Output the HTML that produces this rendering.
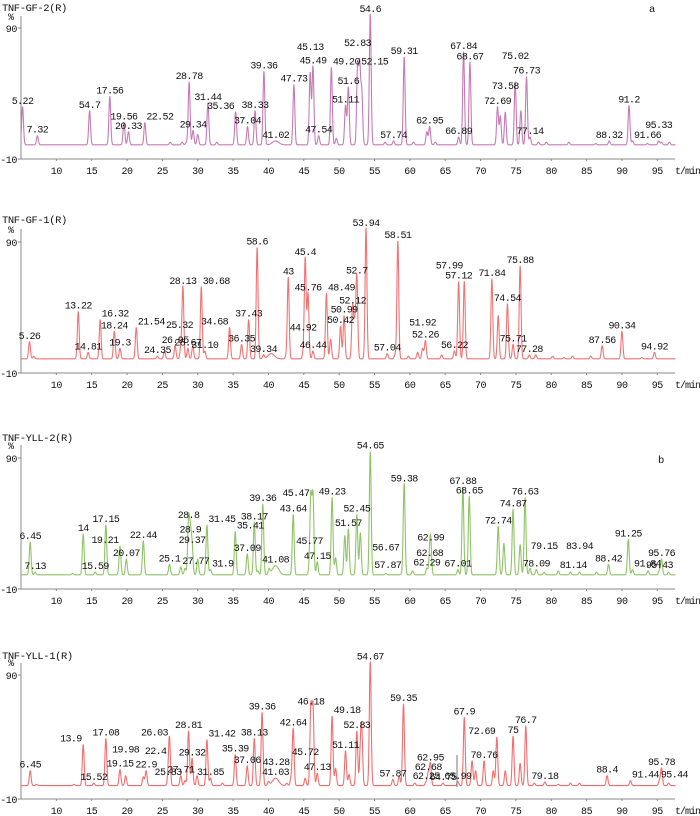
<!DOCTYPE html>
<html><head><meta charset="utf-8"><style>
html,body{margin:0;padding:0;background:#fff;}
svg{display:block;font-family:"Liberation Mono","Liberation Sans",monospace;}
.lbl{font-size:10px;fill:#111;letter-spacing:-0.6px;}
.tick{font-size:10px;fill:#111;letter-spacing:-0.4px;}
.ttl{font-size:10.5px;fill:#111;letter-spacing:-0.4px;}
</style></head><body>
<svg id="chart" width="700" height="816" viewBox="0 0 700 816" xmlns="http://www.w3.org/2000/svg"></svg>
<script>
// ---- data (retention time in min, relative abundance %, peak label) ----
const p1Times=[5.22,7.32,14.7,17.56,19.56,20.2,22.52,26.1,27.8,28.4,28.78,29.34,30.0,31.44,32.7,35.36,37.04,38.1,39.36,41.02,43.6,45.9,46.3,47.1,48.9,49.6,50.9,51.3,52.6,52.9,53.2,54.4,56.5,57.7,59.2,60.5,62.4,62.8,63.6,66.9,67.6,68.5,72.4,72.8,73.5,74.9,75.7,76.5,77.0,78.2,79.3,82.5,86.3,88.2,91.0,91.5,93.6,95.2,95.6,96.7];
const p1Heights=[29,7,26,37,17,10,17,2,2,2,48,11,8,32,2,25,14,26,56,3,46,55,60,7,59,5,30,44,58,59,40,100,2,3,67,2,10,14,2,6,71,63,29,22,25,48,26,52,6,2,2,2,1,3,30,3,1,3,2,2];
const p1Labels=["5.22","7.32","54.7","17.56","19.56","20.33","22.52","","","","28.78","29.34","","31.44","","35.36","37.04","38.33","39.36","41.02","47.73","45.13","45.49","47.54","49.20","","51.11","51.6","52.83","52.15","","54.6","","57.74","59.31","","","62.95","","66.89","67.84","68.67","72.69","","73.58","75.02","","76.73","77.14","","","","","88.32","91.2","91.66","","95.33","",""];
const p1Broad=[41.02];

const p2Times=[6.2,6.8,13.1,14.5,16.2,18.2,19.0,21.3,24.3,25.3,26.8,27.6,27.9,28.6,29.3,30.5,31.0,34.5,36.2,37.2,38.4,39.3,40.4,42.5,42.8,44.9,45.2,45.6,46.3,48.2,48.8,50.2,50.7,51.9,52.2,52.5,53.8,56.8,57.9,58.3,59.8,61.1,61.8,62.2,64.5,66.3,66.9,67.7,71.6,72.5,73.8,74.6,75.6,76.9,77.8,80.2,81.8,83.0,85.6,87.2,90.0,92.8,94.6];
const p2Heights=[13,2,36,5,30,21,8,24,2,6,10,8,55,8,10,55,6,24,11,30,85,3,4,2,62,4,77,50,6,50,15,25,33,40,25,63,100,4,3,90,2,5,8,14,3,6,59,59,61,33,42,11,71,3,3,2,1,2,2,10,21,1,5];
const p2Labels=["5.26","","13.22","14.81","16.32","18.24","19.3","21.54","24.35","25.32","26.95","","28.13","28.67","","30.68","31.10","34.68","36.35","37.43","58.6","39.34","","","43","44.92","45.4","45.76","46.44","48.49","","50.42","50.99","52.12","","52.7","53.94","57.04","","58.51","","","51.92","52.26","","56.22","57.12","57.99","71.84","","74.54","75.71","75.88","77.28","","","","","","87.56","90.34","","94.92"];
const p2Broad=[40.4];

const p3Times=[6.3,7.0,12.3,13.8,15.5,17.0,19.0,19.9,22.3,26.0,27.6,28.2,28.7,28.95,29.2,30.0,31.3,31.8,35.3,37.0,38.0,38.5,39.2,40.1,41.0,43.5,45.8,46.0,46.3,46.9,49.0,49.5,50.8,51.3,52.5,53.0,54.4,56.6,59.0,59.2,60.4,62.4,62.8,62.95,66.8,67.5,68.4,72.5,73.3,74.6,75.6,76.3,77.0,77.9,79.0,81.0,82.7,84.0,86.4,88.1,90.9,91.5,93.7,95.3,95.6,96.6];
const p3Heights=[25,2,1,31,2,38,22,12,26,8,6,5,41,30,22,12,38,4,33,16,40,3,54,4,7,46,6,58,60,10,59,13,30,35,46,32,94,1,3,69,3,5,12,24,4,67,60,37,24,50,23,59,5,4,2,3,2,2,2,8,27,4,3,3,12,2];
const p3Labels=["6.45","7.13","","14","15.59","17.15","19.21","20.07","22.44","25.1","27.77","","28.8","28.9","29.37","","31.45","31.9","35.41","37.09","38.17","","39.36","","41.08","43.64","45.77","45.47","","47.15","49.23","","","51.57","52.45","","54.65","56.67","57.87","59.38","","62.29","62.68","62.99","67.01","67.88","68.65","72.74","","74.87","","76.63","","78.09","79.15","81.14","","83.94","","88.42","91.25","91.84","","95.43","95.76",""];
const p3Broad=[41.0];

const p4Times=[6.3,7.2,12.5,13.8,15.3,17.0,19.0,19.8,22.3,22.7,25.8,26.0,27.6,28.2,28.7,29.2,29.9,31.3,31.8,33.5,35.3,37.0,38.0,39.1,40.0,41.0,42.6,43.2,43.5,45.2,46.0,46.3,46.9,49.0,49.5,50.9,51.4,52.5,53.0,53.2,54.4,57.6,58.5,59.1,60.7,62.3,62.6,62.9,64.7,66.8,67.7,68.8,69.3,70.5,71.8,72.3,73.5,74.6,75.6,76.4,77.6,79.1,81.0,82.7,84.0,87.9,91.2,95.3,95.6,96.6];
const p4Heights=[12,1,1,33,2,38,13,8,7,12,6,38,8,4,44,22,8,37,6,2,25,16,38,59,3,6,2,6,46,6,63,63,10,56,14,28,9,44,25,42,100,5,8,66,2,3,10,18,2,3,55,20,12,20,12,39,12,40,18,48,2,3,1,2,2,8,4,4,14,2];
const p4Labels=["6.45","","","13.9","15.52","17.08","19.15","19.98","22.4","22.9","25.83","26.03","27.71","","28.81","29.32","","31.42","31.85","","35.39","37.06","38.13","39.36","","41.03","","43.28","42.64","45.72","46.18","","47.13","49.18","","51.11","","52.83","","","54.67","57.87","","59.35","","62.25","62.68","62.95","64.75","65.99","67.9","","","70.76","","72.69","","75","","76.7","","79.18","","","","88.4","91.44","95.44","95.78",""];
const p4Broad=[41.0];

const xTickVals=[10,15,20,25,30,35,40,45,50,55,60,65,70,75,80,85,90,95];
const yTickVals=[90,-10];

// ---- layout ----
const NS="http://www.w3.org/2000/svg";
const svg=document.getElementById('chart');
const X0=21, X1=675, T0=5, PXPM=7.07;
function xScale(t){return X0+(t-T0)*PXPM;}
function mk(tag,attrs,parent){const e=document.createElementNS(NS,tag);for(const k in attrs)e.setAttribute(k,attrs[k]);(parent||svg).appendChild(e);return e;}

const panels=[
 {title:'TNF-GF-2(R)',titleY:11,pctY:20,top90:28,bot:159,axisTop:16,color:'#c77ab6',times:p1Times,heights:p1Heights,labels:p1Labels,broad:p1Broad,corner:'a',cornerX:649,cornerY:12},
 {title:'TNF-GF-1(R)',titleY:223,pctY:233,top90:242,bot:373,axisTop:229,color:'#f27272',times:p2Times,heights:p2Heights,labels:p2Labels,broad:p2Broad},
 {title:'TNF-YLL-2(R)',titleY:441,pctY:449,top90:458,bot:589,axisTop:445,color:'#8fc465',times:p3Times,heights:p3Heights,labels:p3Labels,broad:p3Broad,corner:'b',cornerX:658,cornerY:463},
 {title:'TNF-YLL-1(R)',titleY:659,pctY:666,top90:675,bot:799,axisTop:663,color:'#f26e6e',times:p4Times,heights:p4Heights,labels:p4Labels,broad:p4Broad}
];

panels.forEach((p,pi)=>{
  const g=mk('g',{});
  
  
  const k=(p.bot-p.top90)/100;
  const yScale=v=>p.bot-(v+10)*k;

  const tt=mk('text',{x:2,y:p.titleY,class:'ttl'},g);tt.textContent=p.title;
  
  
  const pc=mk('text',{x:8,y:p.pctY,class:'tick'},g);pc.textContent='%';
  
  

  const ya=mk('line',{x1:X0,y1:p.axisTop,x2:X0,y2:p.bot,stroke:'#888','stroke-width':1},g);
  
  
  const xa=mk('line',{x1:X0,y1:p.bot,x2:X1,y2:p.bot,stroke:'#888','stroke-width':1},g);
  
  
  yTickVals.forEach(v=>{
    const y=yScale(v);
    mk('line',{x1:X0-3,y1:y,x2:X0,y2:y,stroke:'#888'},g);
    const t=mk('text',{x:X0-4,y:y+4,'text-anchor':'end',class:'tick'},g);t.textContent=String(v);
    
    
  });
  xTickVals.forEach(v=>{
    const x=xScale(v);
    mk('line',{x1:x,y1:p.bot,x2:x,y2:p.bot+2,stroke:'#888'},g);
    const t=mk('text',{x:x,y:p.bot+15,'text-anchor':'middle',class:'tick'},g);t.textContent=String(v);
    
    
  });
  const xu=mk('text',{x:675,y:p.bot+15,class:'tick',style:'letter-spacing:-1px'},g);xu.textContent='t/min';
  
  

  const sig=p.times.map(t=>p.broad.includes(t)?0.45:0.13);
  let pts=[];
  for(let t=T0;t<=97.6;t+=0.03){
    let v=0.8;
    for(let i=0;i<p.times.length;i++){const d=(t-p.times[i])/sig[i];if(Math.abs(d)<6)v+=p.heights[i]*Math.exp(-0.5*d*d);}
    pts.push(xScale(t).toFixed(2)+','+yScale(Math.min(v,101)).toFixed(2));
  }
  const tr=mk('polyline',{points:pts.join(' '),fill:'none',stroke:p.color,'stroke-width':1.1,'stroke-linejoin':'round'},g);
  
  

  // labels with greedy collision avoidance (tallest peaks first)
  const order=p.labels.map((l,i)=>i).filter(i=>p.labels[i]).sort((a,b)=>p.heights[b]-p.heights[a]);
  const placed=[];
  const overlaps=b=>placed.some(q=>b.x0<q.x1&&b.x1>q.x0&&b.y0<q.y1&&b.y1>q.y0);
  order.forEach(i=>{
    const lab=p.labels[i];
    const w=lab.length*5.4+1;
    const cx=xScale(p.times[i]);
    const by=yScale(Math.min(p.heights[i]+0.8,100))-3;
    const cands=[[0,0],[-w/2-1,0],[w/2+1,0],[0,-10],[-w/2-1,-10],[w/2+1,-10],[0,-20],[-w/2-1,-20],[w/2+1,-20]];
    let best=cands[0];
    for(const c of cands){
      const b={x0:cx+c[0]-w/2,x1:cx+c[0]+w/2,y0:by+c[1]-9,y1:by+c[1]};
      if(!overlaps(b)&&b.y0>p.axisTop-6){best=c;break;}
    }
    placed.push({x0:cx+best[0]-w/2,x1:cx+best[0]+w/2,y0:by+best[1]-9,y1:by+best[1]});
    const t=mk('text',{x:cx+best[0],y:by+best[1],'text-anchor':'middle',class:'lbl'},g);
    t.textContent=lab;
    
    
  });

  if(p.corner){
    const c=mk('text',{x:p.cornerX,y:p.cornerY,class:'ttl'},g);c.textContent=p.corner;
    
    
  }
});
const gl=mk('line',{x1:457,y1:755,x2:457,y2:787,stroke:'#777','stroke-width':1});


</script>
</body></html>
